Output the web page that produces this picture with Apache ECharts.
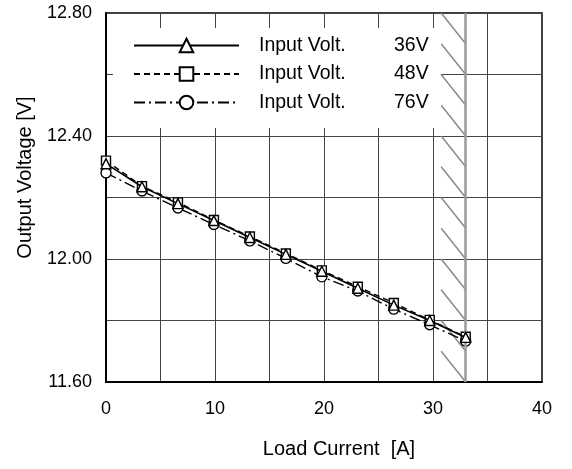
<!DOCTYPE html>
<html><head><meta charset="utf-8">
<script src="https://cdn.jsdelivr.net/npm/echarts@6/dist/echarts.min.js"></script>
<style>html,body{margin:0;padding:0;background:#fff}#c{width:572px;height:469px}</style>
</head><body><div id="c"></div>
<script>
// ---- data ----
const loadCurrent = [0, 3.3, 6.6, 9.9, 13.2, 16.5, 19.8, 23.1, 26.4, 29.7, 33];
const v36 = [12.31, 12.235, 12.18, 12.125, 12.07, 12.015, 11.96, 11.905, 11.85, 11.80, 11.745];
const v48 = [12.32, 12.237, 12.184, 12.127, 12.073, 12.018, 11.963, 11.91, 11.857, 11.802, 11.747];
const v76 = [12.28, 12.221, 12.166, 12.112, 12.059, 12.002, 11.942, 11.896, 11.837, 11.786, 11.733];
const seriesLabels = ['36V', '48V', '76V'];
const legendPrefix = 'Input Volt.';
const xTickLabels = [0, 10, 20, 30, 40];
const yTickLabels = ['11.60', '12.00', '12.40', '12.80'];
const currentLimit = 33;
const hatchFrom = 30.75;
const hatchLevels = [11.6, 11.7, 11.8, 11.9, 12.0, 12.1, 12.2, 12.3, 12.4, 12.5, 12.6, 12.7];
const hatchStep = 0.1;

const FONT = "'Liberation Sans', Arial, sans-serif";
const pair = (xs, ys) => xs.map((x, i) => [x, ys[i]]);

const chart = echarts.init(document.getElementById('c'));
const lineStyles = [
  { type: 'solid', width: 1.6 },
  { type: [6, 4], width: 1.4 },
  { type: [11, 4, 2, 4], width: 1.4 }
];
const symbols = ['triangle', 'rect', 'circle'];
const sizes = [10, 9, 10];
const values = [v36, v48, v76];

const series = values.map((vals, i) => ({
  name: seriesLabels[i],
  type: 'line',
  data: pair(loadCurrent, vals),
  symbol: symbols[i],
  symbolSize: sizes[i],
  showAllSymbol: true,
  itemStyle: { color: '#fff', borderColor: '#000', borderWidth: 1.4 },
  lineStyle: Object.assign({ color: '#000' }, lineStyles[i]),
  z: 5 - i
}));

series.push({
  type: 'lines',
  coordinateSystem: 'cartesian2d',
  silent: true,
  z: 3,
  lineStyle: { color: '#8a8a8a', width: 1.5, opacity: 1 },
  data: hatchLevels.map(v => ({ coords: [[hatchFrom, v + hatchStep], [currentLimit, v]] })),
  markLine: {
    silent: true, symbol: 'none', label: { show: false },
    lineStyle: { color: '#9a9a9a', width: 2.5, type: 'solid' },
    data: [{ xAxis: currentLimit }]
  }
});

chart.setOption({
  animation: false,
  backgroundColor: '#fff',
  textStyle: { fontFamily: FONT },
  grid: { left: 106, right: 30, top: 13, bottom: 87, show: true, borderColor: '#000', borderWidth: 1.5, backgroundColor: 'transparent' },
  legend: {
    data: seriesLabels,
    orient: 'vertical',
    left: 113, top: 28,
    padding: [7.5, 12, 15.5, 20],
    backgroundColor: '#fff',
    itemWidth: 105, itemHeight: 17, itemGap: 8.5,
    z: 10,
    formatter: n => '{a|' + legendPrefix + '}{b|' + n + '}',
    textStyle: {
      fontFamily: FONT, fontSize: 19.5, color: '#000', lineHeight: 17,
      rich: {
        a: { fontFamily: FONT, fontSize: 19.5, width: 135, lineHeight: 17, padding: [0, 0, 0, 15] },
        b: { fontFamily: FONT, fontSize: 19.5, lineHeight: 17 }
      }
    }
  },
  xAxis: {
    type: 'value', min: 0, max: 40, interval: 5,
    name: 'Load Current  [A]', nameLocation: 'middle', nameGap: 57,
    nameTextStyle: { fontFamily: FONT, fontSize: 20, color: '#000', padding: [0, 0, 0, 30] },
    axisLine: { lineStyle: { color: '#000', width: 2 } },
    axisTick: { show: false },
    axisLabel: {
      fontFamily: FONT, fontSize: 18, color: '#000', margin: 18,
      formatter: v => xTickLabels.includes(v) ? String(v) : ''
    },
    splitLine: { show: true, lineStyle: { color: '#444', width: 1 } }
  },
  yAxis: {
    type: 'value', min: 11.6, max: 12.8, interval: 0.2,
    name: 'Output Voltage [V]', nameLocation: 'middle', nameGap: 71,
    nameTextStyle: { fontFamily: FONT, fontSize: 20, color: '#000', padding: [0, 0, 0, 40] },
    axisLine: { show: true, lineStyle: { color: '#000', width: 2 } },
    axisTick: { show: false },
    axisLabel: {
      fontFamily: FONT, fontSize: 18, color: '#000', margin: 14,
      formatter: v => { const s = v.toFixed(2); return yTickLabels.includes(s) ? s : ''; }
    },
    splitLine: { show: true, lineStyle: { color: '#444', width: 1 } }
  },
  series: series
});
</script></body></html>
